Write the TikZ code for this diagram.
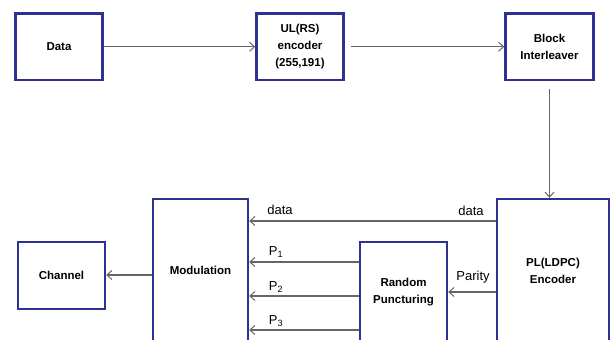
\documentclass[tikz,border=0pt]{standalone}
\usepackage{fontspec}
\setmainfont{Liberation Sans}
\usepackage{tikz}
\definecolor{navy500}{HTML}{2E3192}
\definecolor{gray600}{HTML}{666666}
\usetikzlibrary{arrows.meta}
\tikzstyle{bloque}=[rectangle, draw=navy500, line width=2.4pt, fill=white, align=center, font=\fontsize{11.5}{17}\selectfont\bfseries, inner sep=0pt]
\tikzstyle{flecha}=[draw=gray600, line width=1.3pt, -{Straight Barb[length=5pt,width=9pt,line width=1pt]}]
\tikzstyle{rotulo}=[font=\fontsize{13}{15}\selectfont, inner sep=0pt]

\begin{document}
\begin{tikzpicture}[x=1pt, y=-1pt]
			\clip (0,0) rectangle (611,340);
			\node[bloque, minimum width=87pt, minimum height=66.5pt] (data) at (59,46.75) {Data};
			\node[bloque, minimum width=87pt, minimum height=66.5pt] (rs) at (300,46.75) {UL(RS)\\encoder\\(255,191)};
			\node[bloque, minimum width=88pt, minimum height=66.5pt] (inter) at (549.5,46.75) {Block\\Interleaver};
			\node[bloque, minimum width=87pt, minimum height=67pt] (channel) at (61.5,275.5) {Channel};
			\node[bloque, minimum width=95pt, minimum height=161pt, text height=9pt, text depth=19.4pt] (mod) at (200.5,279.5) {Modulation};
			\node[bloque, minimum width=87pt, minimum height=118pt, text height=9pt, text depth=3.4pt] (punct) at (403.5,301) {Random\\Puncturing};
			\node[bloque, minimum width=112pt, minimum height=161pt, text height=9pt, text depth=1.4pt] (ldpc) at (553,279.5) {PL(LDPC)\\Encoder};
			\path[flecha] (data)--(rs);
			\path[flecha, shorten <=6pt] (rs)--(inter);
			\path[flecha, shorten <=8pt] (inter.south)--(inter.south |- ldpc.north);
			\path[flecha] (ldpc.west |- 0,221)--(mod.east |- 0,221);
			\path[flecha] (punct.west |- 0,262)--(mod.east |- 0,262);
			\path[flecha] (punct.west |- 0,296)--(mod.east |- 0,296);
			\path[flecha] (punct.west |- 0,330)--(mod.east |- 0,330);
			\path[flecha] (ldpc.west |- 0,292)--(punct.east |- 0,292);
			\path[flecha] (mod.west |- 0,275)--(channel.east |- 0,275);
			\node[rotulo] (dl) at (280,210) {data};
			\node[rotulo] (dr) at (471,211) {data};
			\node[rotulo] (p1) at (276,252) {P\textsubscript{1}};
			\node[rotulo] (p2) at (276,287) {P\textsubscript{2}};
			\node[rotulo] (p3) at (276,321) {P\textsubscript{3}};
			\node[rotulo] (par) at (473,277) {Parity};
		\end{tikzpicture}
\end{document}
